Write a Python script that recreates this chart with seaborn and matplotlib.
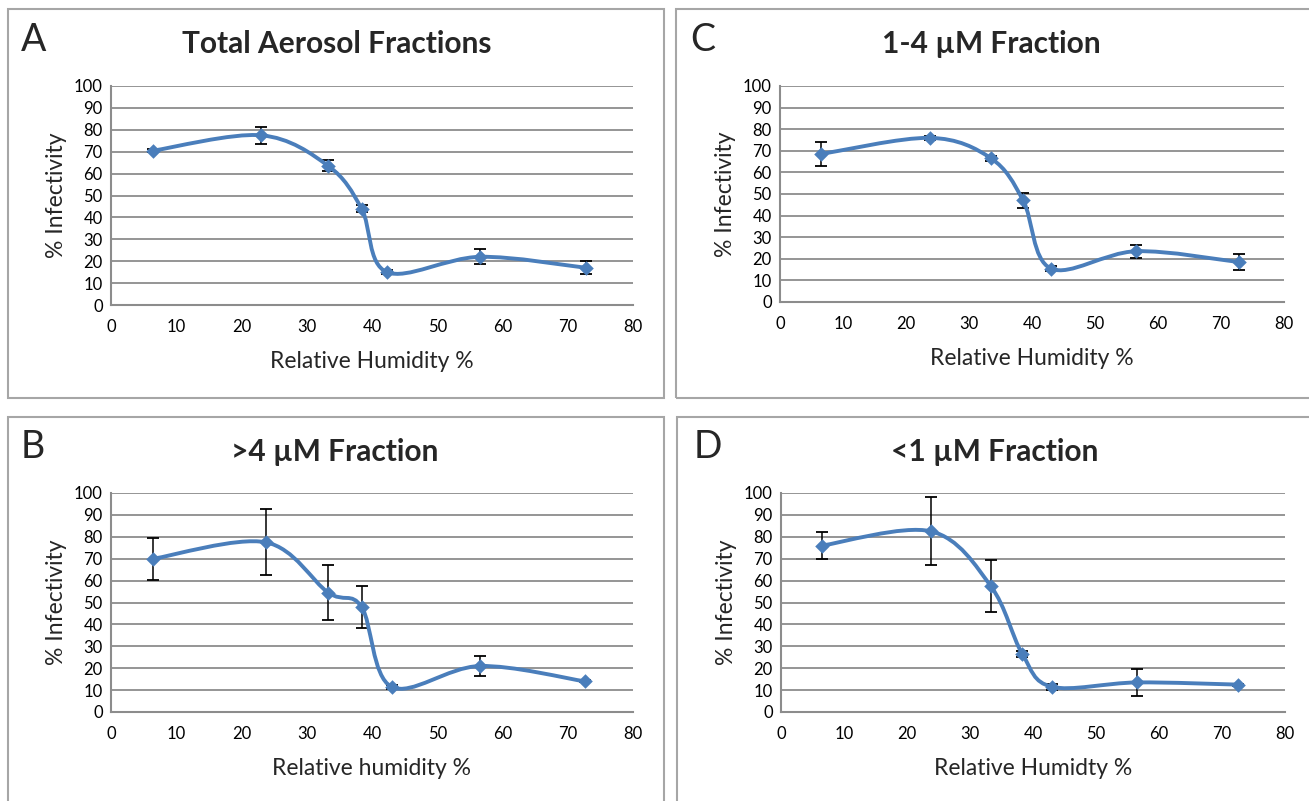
import numpy as np
import seaborn as sns
import matplotlib.pyplot as plt
from matplotlib.path import Path
from matplotlib.patches import PathPatch, Rectangle

sns.set_theme(style="white")
plt.rcParams['font.family'] = ['Lato', 'DejaVu Sans']

# data
rh_a = [6.5, 23.0, 33.3, 38.4, 42.3, 56.5, 72.8]
inf_a = [70.5, 77.5, 63.5, 44.0, 15.0, 22.0, 17.0]
err_a = [0.8, 4.0, 2.5, 1.5, 1.0, 3.5, 3.0]

rh_c = [6.5, 23.8, 33.5, 38.6, 43.0, 56.5, 72.8]
inf_c = [68.5, 76.0, 66.5, 47.0, 15.5, 23.5, 18.5]
err_c = [5.5, 1.0, 1.0, 3.5, 1.0, 3.0, 3.5]

rh_b = [6.5, 23.7, 33.3, 38.4, 43.0, 56.5, 72.6]
inf_b = [70.0, 77.5, 54.5, 48.0, 11.5, 21.0, 14.0]
err_b = [9.5, 15.0, 12.5, 9.5, 1.0, 4.5, 0.5]

rh_d = [6.5, 23.8, 33.3, 38.3, 43.0, 56.5, 72.6]
inf_d = [76.0, 82.5, 57.5, 26.5, 11.5, 13.5, 12.5]
err_d = [6.0, 15.5, 12.0, 1.5, 1.5, 6.0, 0.5]

letters = ['A', 'C', 'B', 'D']
titles = ['Total Aerosol Fractions', '1-4 \u00b5M Fraction', '>4 \u00b5M Fraction', '<1 \u00b5M Fraction']
xlabels = ['Relative Humidity %', 'Relative Humidity %', 'Relative humidity %', 'Relative Humidty %']
panels = [(rh_a, inf_a, err_a), (rh_c, inf_c, err_c), (rh_b, inf_b, err_b), (rh_d, inf_d, err_d)]

blue = '#4a7ebb'
grid = '#8c8c8c'


def smooth_path(x, y):
    # excel-like smoothed line: bezier segments with catmull-rom control points
    p = np.column_stack([x, y]).astype(float)
    n = len(p)
    verts = [p[0]]
    codes = [Path.MOVETO]
    for i in range(n - 1):
        p0 = p[i - 1] if i > 0 else p[i]
        p3 = p[i + 2] if i + 2 < n else p[i + 1]
        c1 = p[i] + (p[i + 1] - p0) / 6
        c2 = p[i + 1] - (p3 - p[i]) / 6
        verts += [c1, c2, p[i + 1]]
        codes += [Path.CURVE4] * 3
    return Path(verts, codes)


W, H = 1309, 801
fig = plt.figure(figsize=(W / 100, H / 100), dpi=100)

# axes boxes in pixels: left, top, right, bottom
boxes = [(111, 86, 633, 305), (780, 86, 1284, 302), (111, 493, 633, 712), (781, 493, 1285, 712)]
# panel frames in pixels
frames = [(8, 9, 664, 398), (676, 9, 1312, 398), (8, 417, 664, 805), (677, 417, 1312, 805)]
letter_pos = [(34, 40), (703, 40), (33, 447), (708, 447)]
title_pos = [(337, 44), (991, 44), (335, 452), (995, 452)]

for fr in frames:
    fig.patches.append(Rectangle((fr[0] / W, 1 - fr[3] / H), (fr[2] - fr[0]) / W, (fr[3] - fr[1]) / H,
                                 transform=fig.transFigure, fill=False, edgecolor='#a6a6a6', lw=1.5))

for k, (rh, inf, err) in enumerate(panels):
    l, t, r, b = boxes[k]
    ax = fig.add_axes([l / W, 1 - b / H, (r - l) / W, (b - t) / H])
    ax.set_xlim(0, 80)
    ax.set_ylim(0, 100)
    ax.set_xticks(range(0, 81, 10))
    ax.set_yticks(range(0, 101, 10))
    for yv in range(10, 101, 10):
        ax.axhline(yv, color=grid, lw=1.3, zorder=0)
    ax.errorbar(rh, inf, yerr=err, fmt='none', ecolor='black', elinewidth=1.1, capsize=4, capthick=1.3, zorder=2)
    ax.add_patch(PathPatch(smooth_path(rh, inf), facecolor='none', edgecolor=blue, lw=2.8,
                           capstyle='round', joinstyle='round', zorder=3))
    sns.scatterplot(x=rh, y=inf, ax=ax, marker='D', s=55, color=blue, edgecolor=blue, linewidth=0, zorder=4)
    for side in ['top', 'right']:
        ax.spines[side].set_visible(False)
    for side in ['left', 'bottom']:
        ax.spines[side].set_color(grid)
        ax.spines[side].set_linewidth(1.5)
    ax.tick_params(axis='x', direction='inout', length=10, width=1.3, color=grid, labelsize=12, pad=5,
                   labelcolor='black')
    ax.tick_params(axis='y', length=0, labelsize=12, pad=6, labelcolor='black')
    ax.set_xlabel(xlabels[k], fontsize=16.5, labelpad=11.5)
    ax.set_ylabel('% Infectivity', fontsize=16.5, labelpad=5)
    fig.text(letter_pos[k][0] / W, 1 - letter_pos[k][1] / H, letters[k], fontsize=27, ha='center', va='center')
    fig.text(title_pos[k][0] / W, 1 - title_pos[k][1] / H, titles[k], fontsize=21.5, fontweight='bold',
             ha='center', va='center')

fig.savefig('out.png', dpi=100)
